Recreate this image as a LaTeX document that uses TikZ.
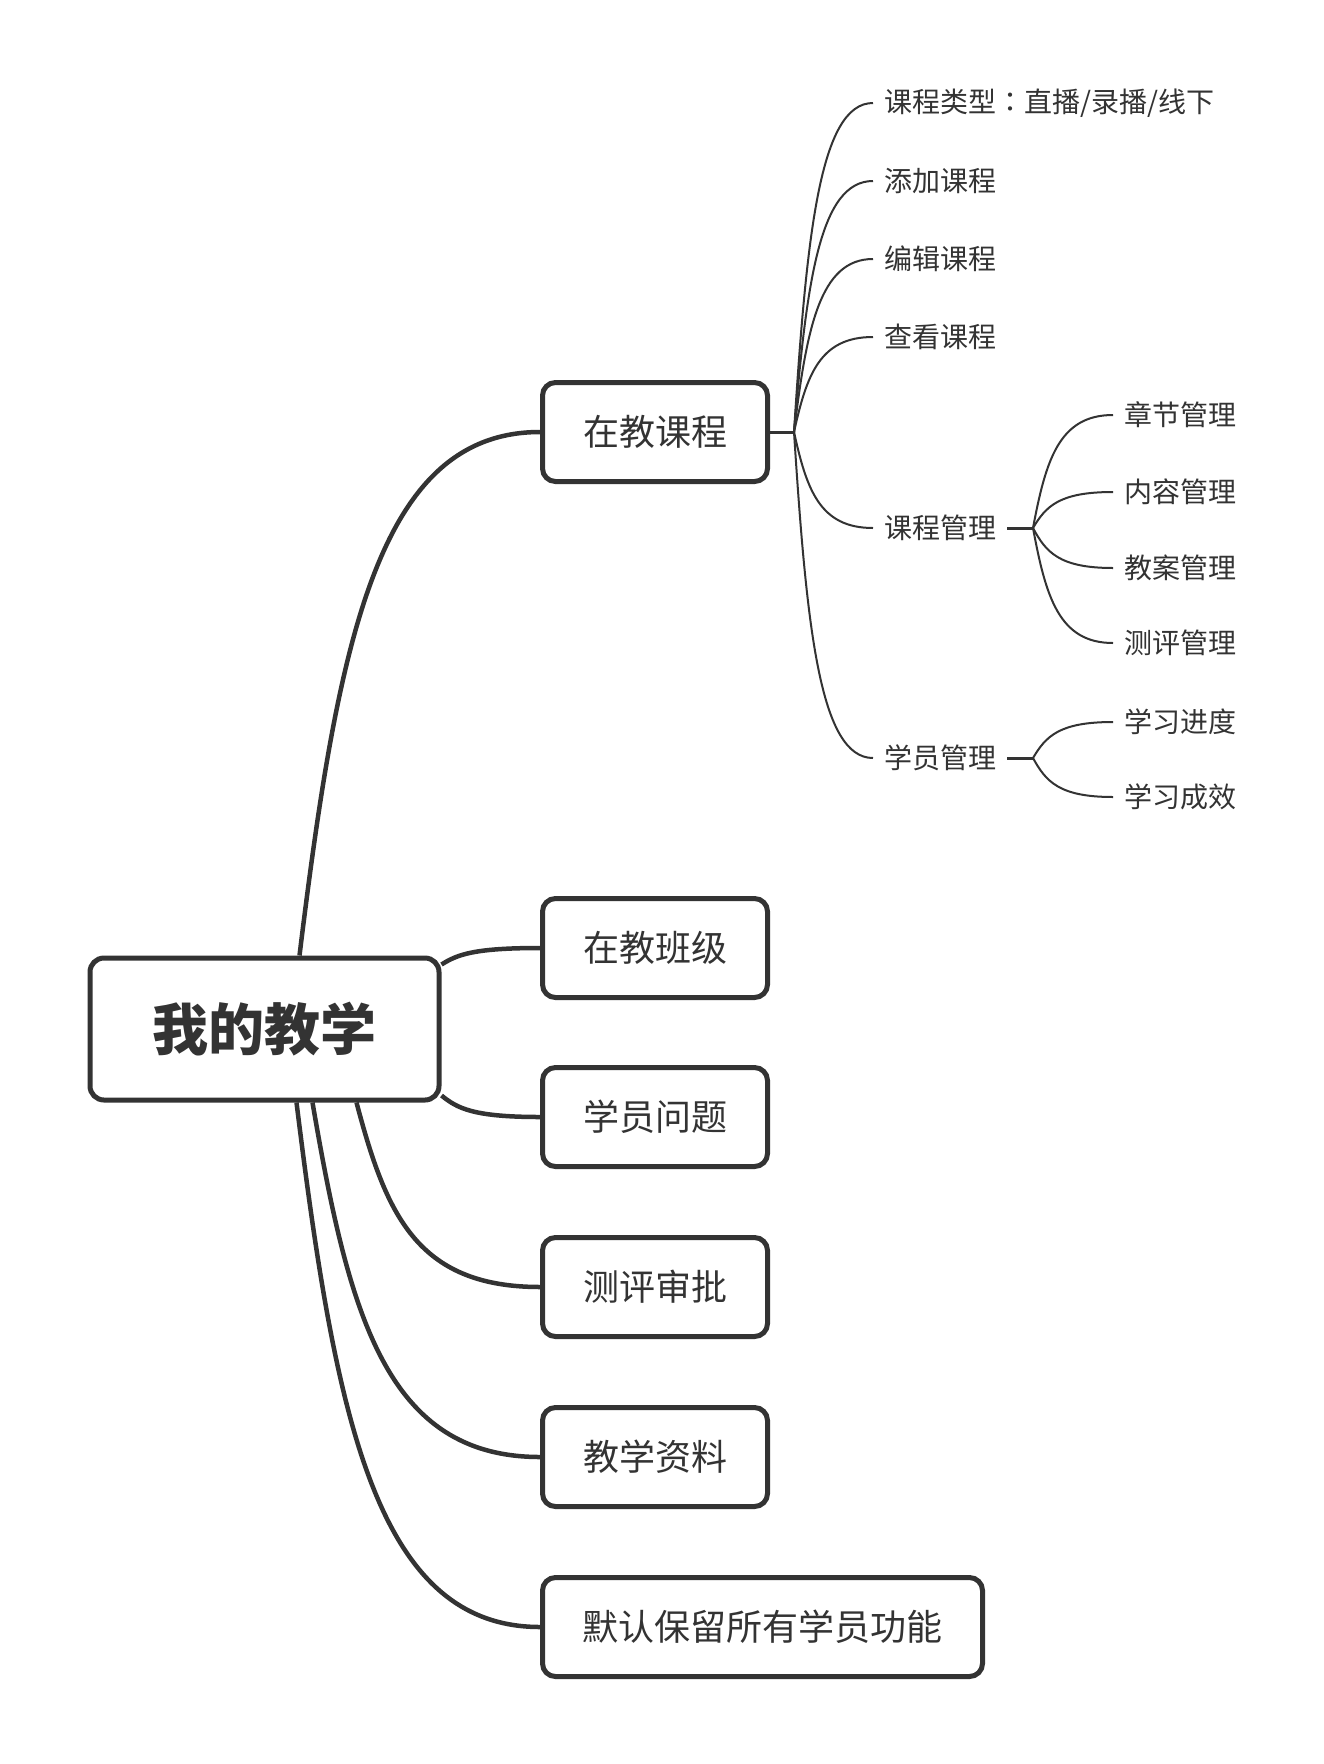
\documentclass[tikz,border=0pt]{standalone}
\usepackage{fontspec}
\setmainfont{Noto Sans CJK SC}
\newfontfamily\cjktc{Noto Sans CJK TC}
\usepackage{xcolor}
\usetikzlibrary{calc}
\definecolor{ink}{HTML}{333333}

\begin{document}
\begin{tikzpicture}[x=1pt, y=-1pt,
  rootbox/.style={draw=ink, text=ink, line width=5pt, rounded corners=14pt, fill=white,
    minimum width=349pt, minimum height=142pt, font=\fontsize{56}{60}\selectfont\bfseries},
  topic/.style={draw=ink, text=ink, line width=5pt, rounded corners=13pt, fill=white,
    minimum width=225pt, minimum height=99pt, inner xsep=40pt, anchor=west,
    font=\fontsize{36}{40}\selectfont},
  leaf/.style={text=ink, inner xsep=11pt, inner ysep=2pt, anchor=west,
    font=\fontsize{28}{30}\selectfont},
  trunk/.style={draw=ink, line width=4.5pt},
  stub/.style={draw=ink, line width=3pt},
  twig/.style={draw=ink, line width=2pt},
  branch/.style={to path={let \p1=(\tikztostart), \p2=(\tikztotarget) in
    .. controls ({\x1+0.16*((\x2)-(\x1))}, {\y1+0.6*((\y2)-(\y1))})
    and ({\x2-0.675*((\x2)-(\x1))}, \y2) .. (\tikztotarget)}}
]

  % page
  \path[fill=white, use as bounding box] (0,0) rectangle (1323,1764);

  % centre topic
  \node[rootbox] (root) at (264.5,1029) {我的教学};

  % main topics
  \node[topic] (course)   at (540,432)  {在教课程};
  \node[topic] (klass)    at (540,948)  {在教班级};
  \node[topic] (question) at (540,1117) {学员问题};
  \node[topic] (review)   at (540,1287) {测评审批};
  \node[topic] (material) at (540,1457) {教学资料};
  \node[topic] (keep)     at (540,1627) {默认保留所有学员功能};

  \draw[trunk] ([xshift=35pt]root.north) to[branch] (course.west);
  \draw[trunk] ([yshift=-9pt]root.north east) to[branch] (klass.west);
  \draw[trunk] ([yshift=7pt]root.south east) to[branch] (question.west);
  \draw[trunk] ([xshift=92pt]root.south) to[branch] (review.west);
  \draw[trunk] ([xshift=48pt]root.south) to[branch] (material.west);
  \draw[trunk] ([xshift=32pt]root.south) to[branch] (keep.west);

  % course subtopics
  \node[leaf] (ctype)   at (873,103) {课程类型{\cjktc ：}直播/录播/线下};
  \node[leaf] (cadd)    at (873,181) {添加课程};
  \node[leaf] (cedit)   at (873,259) {编辑课程};
  \node[leaf] (cview)   at (873,337) {查看课程};
  \node[leaf] (cmanage) at (873,528) {课程管理};
  \node[leaf] (smanage) at (873,758) {学员管理};

  \coordinate (cfan) at (794,432);
  \draw[stub] (course.east) -- (cfan);
  \draw[twig] (cfan) to[branch] (ctype.west);
  \draw[twig] (cfan) to[branch] (cadd.west);
  \draw[twig] (cfan) to[branch] (cedit.west);
  \draw[twig] (cfan) to[branch] (cview.west);
  \draw[twig] (cfan) to[branch] (cmanage.west);
  \draw[twig] (cfan) to[branch] (smanage.west);

  % course management
  \node[leaf] (chapter) at (1113,415) {章节管理};
  \node[leaf] (content) at (1113,492) {内容管理};
  \node[leaf] (plan)    at (1113,568) {教案管理};
  \node[leaf] (test)    at (1113,643) {测评管理};

  \coordinate (mfan) at (1033,528);
  \draw[stub] (cmanage.east) -- (mfan);
  \draw[twig] (mfan) to[branch] (chapter.west);
  \draw[twig] (mfan) to[branch] (content.west);
  \draw[twig] (mfan) to[branch] (plan.west);
  \draw[twig] (mfan) to[branch] (test.west);

  % student management
  \node[leaf] (progress) at (1113,722) {学习进度};
  \node[leaf] (effect)   at (1113,797) {学习成效};

  \coordinate (sfan) at (1033,758);
  \draw[stub] (smanage.east) -- (sfan);
  \draw[twig] (sfan) to[branch] (progress.west);
  \draw[twig] (sfan) to[branch] (effect.west);

\end{tikzpicture}
\end{document}
